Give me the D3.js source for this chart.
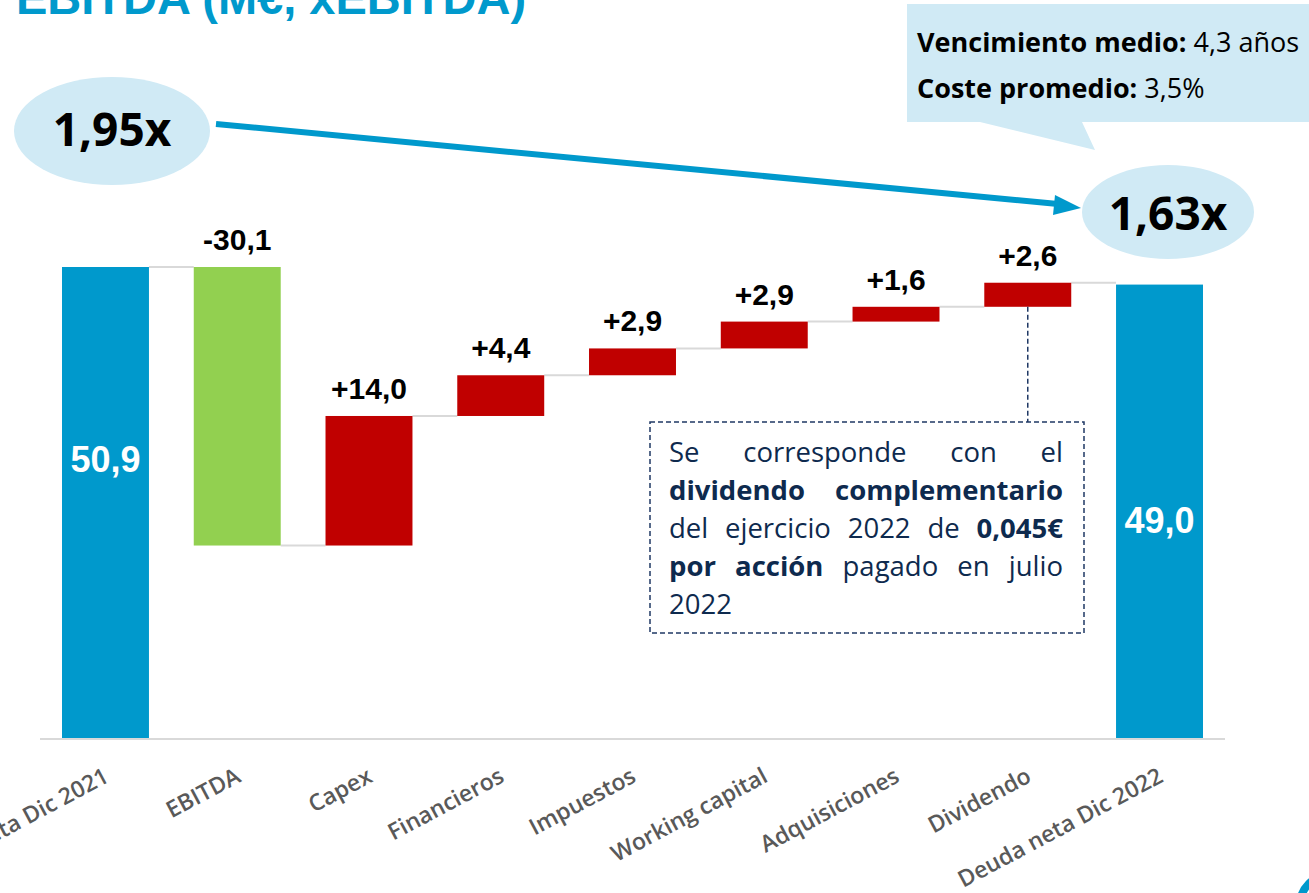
<!DOCTYPE html>
<html>
<head>
<meta charset="utf-8">
<script src="https://cdn.jsdelivr.net/npm/d3@7"></script>
<style>
  html, body { margin: 0; padding: 0; background: #fff; overflow: hidden; }
  svg { display: block; }
</style>
</head>
<body>
<div id="app"></div>
<script>
(function (d3) {

  'use strict'

  // waterfall data (M€)
  const categories = ['Deuda neta Dic 2021', 'EBITDA', 'Capex', 'Financieros', 'Impuestos',
    'Working capital', 'Adquisiciones', 'Dividendo', 'Deuda neta Dic 2022']
  const values = [50.9, -30.1, 14.0, 4.4, 2.9, 2.9, 1.6, 2.6, 49.0]
  const isTotal = [true, false, false, false, false, false, false, false, true]
  const valueLabels = ['50,9', '-30,1', '+14,0', '+4,4', '+2,9', '+2,9', '+1,6', '+2,6', '49,0']

  const ratioStart = '1,95x'
  const ratioEnd = '1,63x'
  const calloutLines = [
    [{ t: 'Vencimiento medio:', b: true }, { t: ' 4,3 años', b: false }],
    [{ t: 'Coste promedio:', b: true }, { t: ' 3,5%', b: false }]
  ]
  const noteLines = [
    [['Se', 0], ['corresponde', 0], ['con', 0], ['el', 0]],
    [['dividendo', 1], ['complementario', 1]],
    [['del', 0], ['ejercicio', 0], ['2022', 0], ['de', 0], ['0,045€', 1]],
    [['por', 1], ['acción', 1], ['pagado', 0], ['en', 0], ['julio', 0]],
    [['2022', 0]]
  ]

  const w = 1309
  const h = 893
  const blue = '#0099CC'
  const navy = '#0E2A4E'

  const svg = d3.select('#app')
    .append('svg')
    .attr('width', w)
    .attr('height', h)

  // running totals
  let run = 0
  const bars = values.map((v, i) => {
    let start, end
    if (isTotal[i]) { start = 0; end = v } else { start = run; end = run + v }
    run = end
    return { cat: categories[i], v, start, end, total: isTotal[i], label: valueLabels[i], i }
  })

  const x = d3.scaleBand()
    .domain(categories)
    .range([40, 1225])
    .paddingInner(0.34)
    .paddingOuter(0.167)

  const y = d3.scaleLinear()
    .domain([0, 50.9])
    .range([738, 267])

  // title (cut off at top)
  svg.append('text')
    .attr('x', 16).attr('y', 14)
    .attr('font-family', 'Liberation Sans, Arial, sans-serif')
    .attr('font-weight', 'bold')
    .attr('font-size', 47)
    .attr('fill', blue)
    .text('EBITDA (M€, xEBITDA)')

  // callout top right
  svg.append('path')
    .attr('d', 'M907,4 L1309,4 L1309,122 L1082,122 L1095,150 L980,122 L907,122 Z')
    .attr('fill', '#D0EAF5')
  calloutLines.forEach((line, li) => {
    const t = svg.append('text')
      .attr('x', 917).attr('y', 52 + li * 46)
      .attr('font-family', 'Open Sans, sans-serif')
      .attr('font-size', 27)
      .attr('fill', '#000')
    line.forEach(p => t.append('tspan').attr('font-weight', p.b ? 700 : 400).text(p.t))
  })

  // ratio ellipses
  const ellipses = [
    { cx: 112, cy: 131, rx: 98, ry: 54, label: ratioStart, ty: 146 },
    { cx: 1168, cy: 212, rx: 86, ry: 47, label: ratioEnd, ty: 230 }
  ]
  ellipses.forEach(e => {
    svg.append('ellipse')
      .attr('cx', e.cx).attr('cy', e.cy).attr('rx', e.rx).attr('ry', e.ry)
      .attr('fill', '#D0EAF5')
    svg.append('text')
      .attr('x', e.cx).attr('y', e.ty)
      .attr('text-anchor', 'middle')
      .attr('font-family', 'Open Sans, sans-serif')
      .attr('font-weight', 700)
      .attr('font-size', 46)
      .attr('fill', '#000')
      .text(e.label)
  })

  // arrow between ratios
  svg.append('line')
    .attr('x1', 216).attr('y1', 124).attr('x2', 1058).attr('y2', 204)
    .attr('stroke', blue).attr('stroke-width', 6)
  svg.append('path')
    .attr('d', 'M1081,208 L1055,195 L1053,215 Z')
    .attr('fill', blue)

  // axis line
  svg.append('line')
    .attr('x1', 40).attr('x2', 1225)
    .attr('y1', y(0) + 1).attr('y2', y(0) + 1)
    .attr('stroke', '#D9D9D9').attr('stroke-width', 2)

  // connectors
  svg.append('g')
    .selectAll('line')
    .data(bars.slice(0, -1))
    .enter()
    .append('line')
    .attr('x1', d => x(d.cat) + x.bandwidth())
    .attr('x2', d => x(categories[d.i + 1]))
    .attr('y1', d => y(d.end))
    .attr('y2', d => y(d.end))
    .attr('stroke', '#D9D9D9')
    .attr('stroke-width', 2)

  // bars
  svg.append('g')
    .selectAll('rect')
    .data(bars)
    .enter()
    .append('rect')
    .attr('x', d => x(d.cat))
    .attr('width', x.bandwidth())
    .attr('y', d => y(Math.max(d.start, d.end)))
    .attr('height', d => Math.abs(y(d.start) - y(d.end)))
    .attr('fill', d => d.total ? blue : (d.v < 0 ? '#92D050' : '#C00000'))

  // value labels
  svg.append('g')
    .selectAll('text')
    .data(bars)
    .enter()
    .append('text')
    .attr('x', d => x(d.cat) + x.bandwidth() / 2)
    .attr('y', d => d.total ? y(d.end * (d.i === 0 ? 0.565 : 0.452)) : y(Math.max(d.start, d.end)) - 17)
    .attr('text-anchor', 'middle')
    .attr('font-family', 'Liberation Sans, Arial, sans-serif')
    .attr('font-weight', 'bold')
    .attr('font-size', d => d.total ? 36 : 30)
    .attr('fill', d => d.total ? '#fff' : '#000')
    .text(d => d.label)

  // category labels
  svg.append('g')
    .selectAll('text')
    .data(bars)
    .enter()
    .append('text')
    .attr('transform', d => 'translate(' + (x(d.cat) + x.bandwidth() / 2 + 5) + ',781) rotate(-28)')
    .attr('text-anchor', 'end')
    .attr('font-family', 'Open Sans, sans-serif')
    .attr('font-weight', 600)
    .attr('font-size', 23)
    .attr('fill', '#595959')
    .text(d => d.cat)

  // note box for dividend
  const div = bars[7]
  const cx = x(div.cat) + x.bandwidth() / 2
  svg.append('line')
    .attr('x1', cx).attr('x2', cx)
    .attr('y1', y(div.start)).attr('y2', 422)
    .attr('stroke', '#1F3864').attr('stroke-width', 1.5)
    .attr('stroke-dasharray', '5,3')
  svg.append('rect')
    .attr('x', 650).attr('y', 422).attr('width', 434).attr('height', 211)
    .attr('fill', 'none')
    .attr('stroke', '#1F3864').attr('stroke-width', 1.5)
    .attr('stroke-dasharray', '5,3')

  const left = 669
  const right = 1063
  noteLines.forEach((line, li) => {
    const t = svg.append('text')
      .attr('y', 462 + li * 38)
      .attr('font-family', 'Open Sans, sans-serif')
      .attr('font-size', 27.5)
      .attr('fill', navy)
    const spans = line.map(wd => t.append('tspan')
      .attr('font-weight', wd[1] ? 700 : 400)
      .text(wd[0]))
    const widths = spans.map(s => s.node().getComputedTextLength())
    const total = d3.sum(widths)
    const last = li === noteLines.length - 1
    const gap = (!last && spans.length > 1) ? (right - left - total) / (spans.length - 1) : 7
    let px = left
    spans.forEach((s, k) => {
      s.attr('x', px)
      px += widths[k] + gap
    })
  })

  // logo fragment bottom right
  svg.append('circle')
    .attr('cx', 1330).attr('cy', 905).attr('r', 30)
    .attr('fill', 'none')
    .attr('stroke', blue).attr('stroke-width', 8)

}(d3))
</script>
</body>
</html>
